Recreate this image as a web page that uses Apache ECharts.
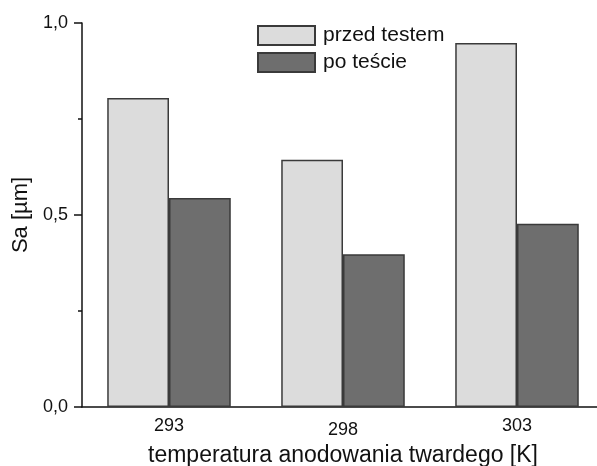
<!DOCTYPE html>
<html>
<head>
<meta charset="utf-8">
<script src="https://cdn.jsdelivr.net/npm/echarts@6/dist/echarts.min.js"></script>
<style>
  html, body { margin: 0; padding: 0; background: #fff; }
  #chart { width: 597px; height: 466px; }
</style>
</head>
<body>
<div id="chart"></div>
<script>
// dane
var categories = ['293', '298', '303']
var przedTestem = [0.805, 0.644, 0.948]
var poTescie = [0.544, 0.398, 0.477]
var seriesNames = ['przed testem', 'po teście']

var font = 'Liberation Sans, Arial, sans-serif'
var chart = echarts.init(document.getElementById('chart'))

chart.setOption({
  animation: false,
  color: ['#dcdcdc', '#6e6e6e'],
  textStyle: { fontFamily: font },
  legend: {
    orient: 'vertical',
    left: 252,
    top: 20,
    icon: 'rect',
    itemWidth: 57,
    itemHeight: 19,
    itemGap: 6,
    textStyle: { fontSize: 21, color: '#111', fontFamily: font, padding: [0, 0, 0, 3] },
    data: seriesNames
  },
  grid: {
    left: 82,
    top: 23,
    bottom: 59,
    width: 522,
    outerBoundsMode: 'none',
    containLabel: false
  },
  xAxis: {
    type: 'category',
    data: categories,
    name: 'temperatura anodowania twardego [K]',
    nameLocation: 'middle',
    nameGap: 36,
    nameTextStyle: { fontSize: 23, color: '#111', fontFamily: font },
    axisLine: { lineStyle: { color: '#111', width: 1.5 } },
    axisTick: { alignWithLabel: true, length: 7, lineStyle: { color: '#111', width: 1.5 } },
    axisLabel: {
      fontSize: 18,
      color: '#111',
      margin: 10,
      formatter: function (v) {
        return v === '298' ? '{low|' + v + '}' : v
      },
      rich: {
        low: { fontSize: 18, color: '#111', padding: [4, 0, 0, 0], fontFamily: font }
      }
    },
    splitLine: { show: false }
  },
  yAxis: {
    type: 'value',
    min: 0,
    max: 1,
    interval: 0.5,
    name: 'Sa [µm]',
    nameLocation: 'middle',
    nameGap: 48,
    nameTextStyle: { fontSize: 22, color: '#111', fontFamily: font },
    axisLine: { show: true, lineStyle: { color: '#111', width: 1.5 } },
    axisTick: { show: true, length: 8, lineStyle: { color: '#111', width: 1.5 } },
    minorTick: { show: true, splitNumber: 2, length: 4, lineStyle: { color: '#111', width: 1.5 } },
    axisLabel: {
      fontSize: 18,
      color: '#111',
      margin: 14,
      formatter: function (v) { return v.toFixed(1).replace('.', ',') }
    },
    splitLine: { show: false }
  },
  series: [
    {
      name: seriesNames[0],
      type: 'bar',
      barGap: '0%',
      barCategoryGap: '29%',
      itemStyle: { borderColor: '#3a3a3a', borderWidth: 1.5 },
      data: przedTestem
    },
    {
      name: seriesNames[1],
      type: 'bar',
      barGap: '0%',
      barCategoryGap: '29%',
      itemStyle: { borderColor: '#3a3a3a', borderWidth: 1.5 },
      data: poTescie
    }
  ]
})
</script>
</body>
</html>
